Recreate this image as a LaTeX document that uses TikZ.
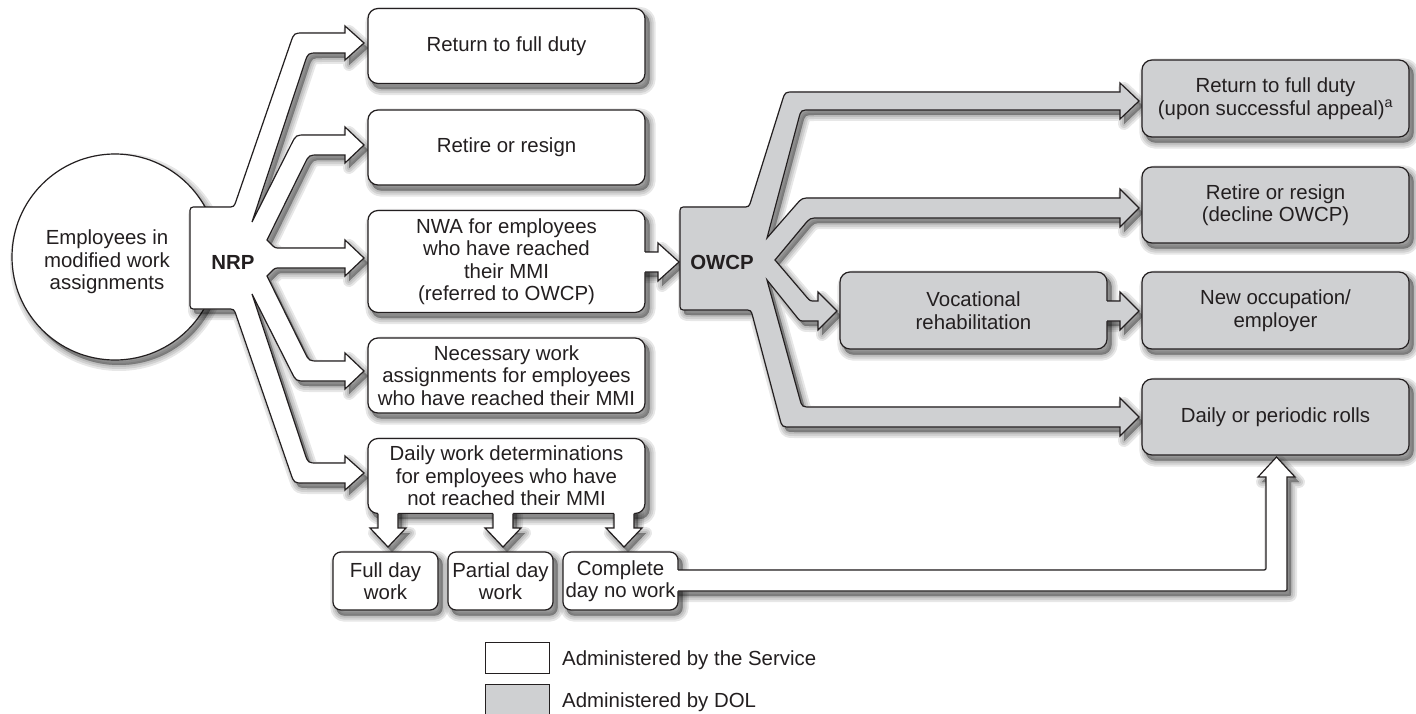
\documentclass[tikz,border=0pt]{standalone}
\usepackage{fontspec}
\setmainfont{Liberation Sans}
\usetikzlibrary{calc}
\pgfdeclarelayer{bgw}
\pgfdeclarelayer{shA}
\pgfdeclarelayer{circ}
\pgfdeclarelayer{shB}
\pgfsetlayers{bgw,shA,circ,shB,main}
\definecolor{dolgray}{RGB}{207,208,210}
\definecolor{ink}{RGB}{35,31,32}
\newcommand\fs{\fontsize{20.4bp}{22.5bp}\selectfont}
% rounded corner at #2 between #1 and #3, radius #4
\newcommand\rcorner[4]{-- ($(#2)!#4!(#1)$) .. controls (#2) .. ($(#2)!#4!(#3)$)}
\newcommand\shadowof[2][shB]{%
  \begin{pgfonlayer}{#1}%
  \foreach \w in {12,8,4,0.5}{%
    \path[fill=black,draw=black,opacity=0.095,line width=\w bp,line join=round,
      transform canvas={xshift=4bp,yshift=-5bp}] #2;}%
  \end{pgfonlayer}}
\newcommand\boxshadow[2]{\shadowof{[rounded corners=#2] (#1.south west) rectangle (#1.north east)}}
\tikzset{
  outl/.style={draw=ink, line width=1.2bp, line join=miter},
  wbox/.style={draw=ink, line width=1.2bp, fill=white, rounded corners=10bp,
    minimum width=277bp, minimum height=75bp, inner sep=0pt, align=center,
    text=ink, font=\fs},
  gbox/.style={wbox, fill=dolgray, minimum width=267bp, minimum height=76bp},
  sbox/.style={wbox, rounded corners=8bp, minimum width=105bp, minimum height=58bp},
  lbl/.style={text=ink, font=\fs, align=center, inner sep=0pt},
  lgbox/.style={draw=ink, line width=1bp, minimum width=64bp, minimum height=31bp, inner sep=0pt},
}
% NRP fan shape
\def\nrpshape{(190,258)
 \rcorner{190,258}{190,207}{234,207}{7bp}
 \rcorner{190,207}{234,207}{294,33}{7bp}
 \rcorner{234,207}{294,33}{345,33}{10bp}
 -- (345,33) -- (345,26) -- (364,43) -- (345,60) -- (345,53)
 \rcorner{345,53}{308,53}{252,222}{10bp}
 -- (252,222)
 \rcorner{252,222}{296,135}{345,135}{10bp}
 -- (345,135) -- (345,127) -- (364,145) -- (345,163) -- (345,155)
 \rcorner{345,155}{309,155}{267,240}{10bp}
 -- (267,240)
 \rcorner{267,240}{275,248}{345,248}{5bp}
 -- (345,248) -- (345,240) -- (364,258) -- (345,276) -- (345,268)
 \rcorner{345,268}{275,268}{267,276}{5bp}
 -- (267,276)
 \rcorner{267,276}{309,361}{345,361}{10bp}
 -- (345,361) -- (345,353) -- (364,371) -- (345,389) -- (345,381)
 \rcorner{345,381}{296,381}{252,294}{10bp}
 -- (252,294)
 \rcorner{252,294}{308,463}{345,463}{10bp}
 -- (345,463) -- (345,456) -- (364,473) -- (345,490) -- (345,483)
 \rcorner{345,483}{294,483}{234,309}{10bp}
 \rcorner{294,483}{234,309}{190,309}{7bp}
 \rcorner{234,309}{190,309}{190,258}{7bp}
 -- cycle}
% OWCP fan shape
\def\owcpshape{(680,258)
 \rcorner{680,258}{680,207}{749,207}{7bp}
 \rcorner{680,207}{749,207}{785,92}{7bp}
 \rcorner{749,207}{785,92}{1120,92}{9bp}
 -- (1120,92) -- (1120,83) -- (1139,101) -- (1120,119) -- (1120,110)
 \rcorner{1120,110}{801,110}{767,238}{9bp}
 -- (767,238)
 \rcorner{767,238}{802,198}{1120,198}{9bp}
 -- (1120,198) -- (1120,189) -- (1139,208) -- (1120,227) -- (1120,218)
 \rcorner{1120,218}{810,218}{775,260}{9bp}
 -- (775,260)
 \rcorner{775,260}{810,301}{818,301}{5bp}
 -- (818,301) -- (818,292) -- (837,311) -- (818,330) -- (818,321)
 \rcorner{818,321}{800,321}{767,280}{5bp}
 -- (767,280)
 \rcorner{767,280}{802,407}{1120,407}{9bp}
 -- (1120,407) -- (1120,398) -- (1139,417) -- (1120,436) -- (1120,427)
 \rcorner{1120,427}{782,427}{751,310}{9bp}
 \rcorner{782,427}{751,310}{680,310}{7bp}
 \rcorner{751,310}{680,310}{680,258}{7bp}
 -- cycle}
\newcommand\dnarrowpath[2]{(#1-10,#2) -- (#1-10,528) -- (#1-18,528) -- (#1,547) -- (#1+18,528) -- (#1+10,528) -- (#1+10,#2)}
\newcommand\dnarrow[1]{%
  \shadowof{\dnarrowpath{#1}{509} -- cycle}%
  \fill[white] \dnarrowpath{#1}{509} -- cycle;%
  \draw[outl] \dnarrowpath{#1}{513.5};}
\newcommand\botarrowpath[1]{(#1,570) \rcorner{#1,570}{1266,570}{1266,477}{4bp} -- (1266,477) -- (1258,477) -- (1276.5,457) -- (1295,477) -- (1287,477) \rcorner{1287,477}{1287,591}{#1,591}{4bp} -- (#1,591)}
\newcommand\nwapath[1]{(#1,252) -- (658,252) -- (658,243) -- (679,262) -- (658,281) -- (658,272) -- (#1,272)}
\newcommand\vocpath[1]{(#1,301) -- (1120,301) -- (1120,292) -- (1139,311) -- (1120,330) -- (1120,321) -- (#1,321)}
\begin{document}
\begin{tikzpicture}[x=1bp,y=-1bp]
\useasboundingbox (0,0) rectangle (1416,713);
\begin{pgfonlayer}{bgw}\fill[white] (0,0) rectangle (1416,713);\end{pgfonlayer}
% employees circle
\shadowof[shA]{(115,257) circle[radius=103]}
\begin{pgfonlayer}{circ}
\path[outl, fill=white] (115,257) circle[radius=103];
\end{pgfonlayer}
\node[lbl] (emp) at (107,262) {Employees in\\modified work\\assignments};
% NRP
\shadowof{\nrpshape}
\path[outl, fill=white] \nrpshape;
\node[lbl, font=\fs\bfseries] (nrp) at (233,262) {NRP};
% NRP outcome boxes
\node[wbox] (b1) at (506.5,46) {Return to full duty};
\node[wbox] (b2) at (506.5,147.5) {Retire or resign};
\node[wbox, minimum height=102bp] (b3) at (506.5,261.5) {NWA for employees\\who have reached\\their MMI\\(referred to OWCP)};
\node[wbox] (b4) at (506.5,375.5) {Necessary work\\assignments for employees\\who have reached their MMI};
\node[wbox] (b5) at (506.5,476) {Daily work determinations\\for employees who have\\not reached their MMI};
\foreach \n in {b1,b2,b3,b4,b5} {\boxshadow{\n}{10bp}}
% down arrows from b5
\dnarrow{388}
\dnarrow{503}
\dnarrow{624}
% small boxes
\node[sbox] (sa) at (385.5,581) {Full day\\work};
\node[sbox] (sb) at (500.5,581) {Partial day\\work};
\node[sbox, minimum width=115bp] (sc) at (620.5,581) {Complete\\day no work};
\foreach \n in {sa,sb,sc} {\boxshadow{\n}{8bp}}
% arrow from sc to daily rolls
\shadowof{\botarrowpath{674} -- cycle}
\fill[white] \botarrowpath{674} -- cycle;
\draw[outl] \botarrowpath{678};
% NWA -> OWCP
\shadowof{\nwapath{641} -- cycle}
\fill[white] \nwapath{641} -- cycle;
\draw[outl] \nwapath{645};
% OWCP
\shadowof{\owcpshape}
\path[outl, fill=dolgray] \owcpshape;
\node[lbl, font=\fs\bfseries] (owcp) at (722,262) {OWCP};
% vocational
\node[gbox, minimum height=77bp] (voc) at (973.5,310.5) {Vocational\\rehabilitation};
\boxshadow{voc}{10bp}
\shadowof{\vocpath{1103} -- cycle}
\fill[dolgray] \vocpath{1103} -- cycle;
\draw[outl] \vocpath{1107};
% DOL outcome boxes
\node[gbox, minimum height=77bp] (g1) at (1275.5,98.5) {Return to full duty\\(upon successful appeal)\textsuperscript{a}};
\node[gbox] (g2) at (1275.5,205) {Retire or resign\\(decline OWCP)};
\node[gbox, minimum height=77bp] (g3) at (1275.5,310.5) {New occupation/\\employer};
\node[gbox] (g4) at (1275.5,417) {Daily or periodic rolls};
\foreach \n in {g1,g2,g3,g4} {\boxshadow{\n}{10bp}}
% legend
\node[lgbox, fill=white] (lw) at (517,657.5) {};
\node[lgbox, fill=dolgray, minimum height=32bp] (lg) at (517,700) {};
\node[lbl, anchor=base west] (lwt) at (562,665) {Administered by the Service};
\node[lbl, anchor=base west] (lgt) at (562,707) {Administered by DOL};
\end{tikzpicture}
\end{document}
